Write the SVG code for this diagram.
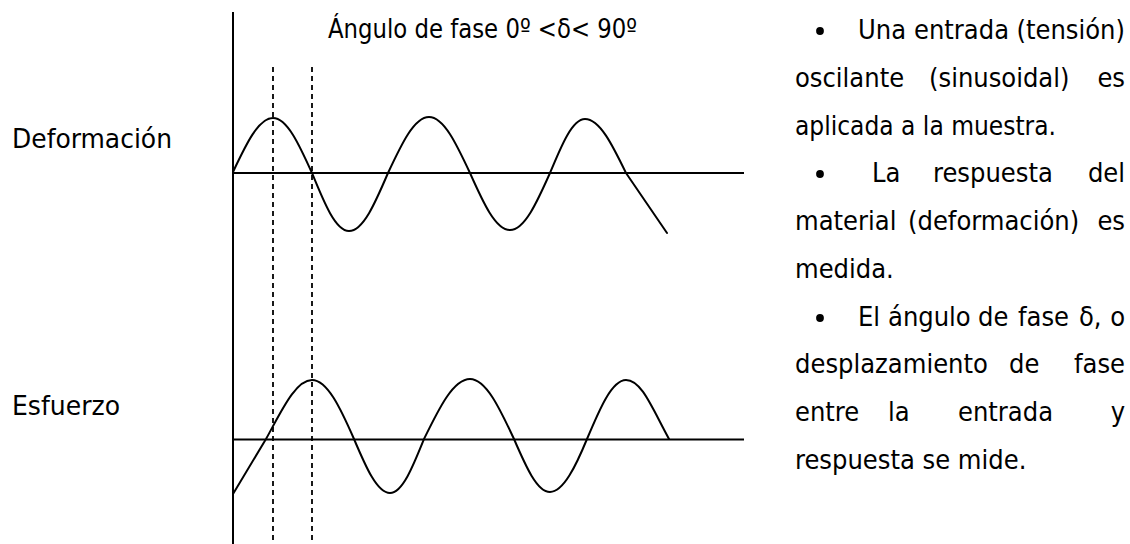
<svg xmlns="http://www.w3.org/2000/svg" width="1130" height="544" viewBox="0 0 1130 544">
<style>
  .t { font-family: "DejaVu Sans Condensed", "DejaVu Sans", "Liberation Sans", sans-serif; font-stretch: condensed; font-size: 27px; fill: #000; }
  .axis { stroke: #000; stroke-width: 2; fill: none; }
  .wave { stroke: #000; stroke-width: 2; fill: none; stroke-linejoin: round; stroke-linecap: round; }
  .dash { stroke: #000; stroke-width: 1.8; stroke-dasharray: 5 4; fill: none; }
  .end { text-anchor: end; }
</style>
<rect width="1130" height="544" fill="#fff"/>

<g id="title">
  <text class="t" x="328" y="38" style="font-size:26px" textLength="309" lengthAdjust="spacingAndGlyphs">Ángulo de fase 0º &lt;δ&lt; 90º</text>
</g>
<g id="label-deformacion">
  <text class="t" x="12" y="148" textLength="160" lengthAdjust="spacingAndGlyphs">Deformación</text>
</g>
<g id="label-esfuerzo">
  <text class="t" x="12" y="415" textLength="108" lengthAdjust="spacingAndGlyphs">Esfuerzo</text>
</g>

<g id="axes">
  <line class="axis" x1="233" y1="12" x2="233" y2="545"/>
  <line class="axis" x1="233" y1="173" x2="744" y2="173"/>
  <line class="axis" x1="233" y1="439.5" x2="744" y2="439.5"/>
  <line class="dash" x1="273" y1="67" x2="273" y2="544"/>
  <line class="dash" x1="312" y1="67" x2="312" y2="544"/>
</g>

<g id="wave-deformacion">
  <path class="wave" d="M233,172 C246,144.4 258.5,118 273,118 C287.1,118 299.3,144.8 312,173 C324.1,202.7 335.6,231 349,231 C363.1,231 375.3,202.7 388,173 C401.4,144.3 414.2,117 429,117 C443.8,117 456.6,144.3 470,173 C483,202.2 495.5,230 510,230 C524.5,230 537,202.2 550,173 C561.4,145.4 572.3,119 585,119 C599.8,119 612.6,145.4 626,173 L667,233"/>
</g>
<g id="wave-esfuerzo">
  <path class="wave" d="M233,494 L266,439 C281,412 295.3,380 312,380 C327.2,380 340.3,407.8 354,439 C365.7,466.6 377,493 390,493 C402.3,493 412.9,466.6 424,439 C439,408.3 453.3,379 470,379 C485.9,379 499.7,408.3 514,439 C525.7,466.1 537,492 550,492 C563.4,492 575.9,465.9 587,439 C599.7,408.8 611.9,380 626,380 C641.6,380 652,408 669,439"/>
</g>

<g id="bullets">
  <circle cx="820" cy="31" r="3.9" fill="#000"/>
  <circle cx="820" cy="174" r="3.9" fill="#000"/>
  <circle cx="820" cy="318" r="3.9" fill="#000"/>
</g>

<g id="description">
  <text class="t" x="858" y="39">Una</text>
  <text class="t" x="914" y="39">entrada</text>
  <text class="t end" x="1125" y="39">(tensión)</text>

  <text class="t" x="795" y="87">oscilante</text>
  <text class="t" x="929" y="87">(sinusoidal)</text>
  <text class="t end" x="1125" y="87">es</text>

  <text class="t" x="795" y="135" textLength="261" lengthAdjust="spacingAndGlyphs">aplicada a la muestra.</text>

  <text class="t" x="872" y="182">La</text>
  <text class="t" x="933" y="182">respuesta</text>
  <text class="t end" x="1125" y="182">del</text>

  <text class="t" x="795" y="230">material</text>
  <text class="t" x="908" y="230">(deformación)</text>
  <text class="t end" x="1125" y="230">es</text>

  <text class="t" x="795" y="278">medida.</text>

  <text class="t" x="858" y="326">El</text>
  <text class="t" x="888" y="326">ángulo</text>
  <text class="t" x="978" y="326">de</text>
  <text class="t" x="1018" y="326">fase</text>
  <text class="t" x="1079" y="326">δ,</text>
  <text class="t end" x="1125" y="326">o</text>

  <text class="t" x="795" y="373">desplazamiento</text>
  <text class="t" x="1009" y="373">de</text>
  <text class="t end" x="1125" y="373">fase</text>

  <text class="t" x="795" y="421">entre</text>
  <text class="t" x="888" y="421">la</text>
  <text class="t" x="958" y="421">entrada</text>
  <text class="t end" x="1125" y="421">y</text>

  <text class="t" x="795" y="469">respuesta se mide.</text>
</g>
</svg>
